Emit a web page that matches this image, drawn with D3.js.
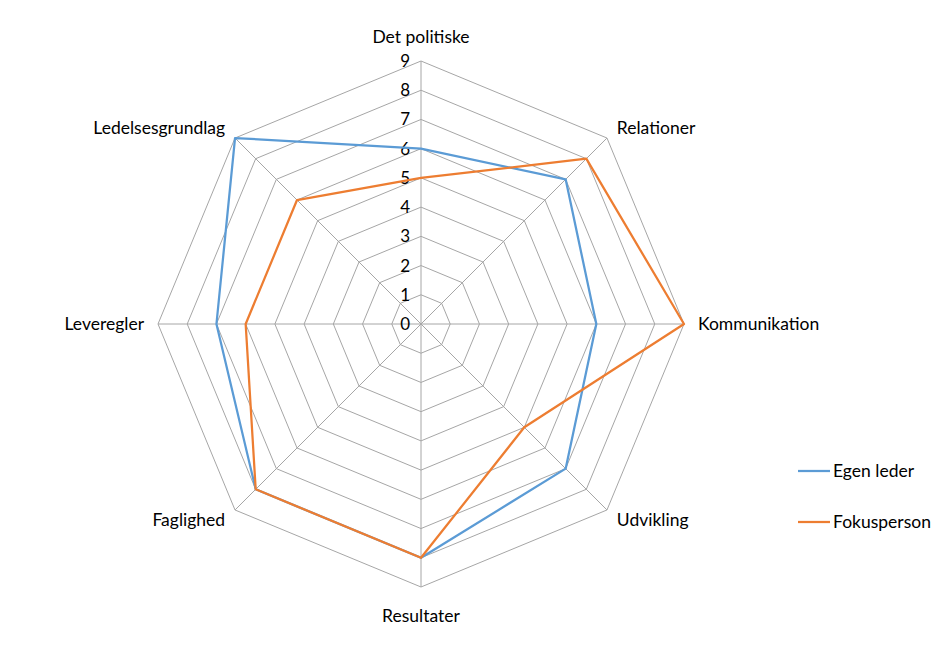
<!DOCTYPE html>
<html>
<head>
<meta charset="utf-8">
<script src="https://cdn.jsdelivr.net/npm/d3@7"></script>
<style>
  body { margin: 0; background: #fff; }
  text { font-family: Lato, "Open Sans", sans-serif; fill: #000; }
</style>
</head>
<body>
<svg id="radar" width="944" height="658"></svg>
<script>
const categories = ["Det politiske", "Relationer", "Kommunikation", "Udvikling",
  "Resultater", "Faglighed", "Leveregler", "Ledelsesgrundlag"];
const egenLeder = [6, 7, 6, 7, 8, 8, 7, 9];
const fokusperson = [5, 8, 9, 5, 8, 8, 6, 6];
const ticks = [0, 1, 2, 3, 4, 5, 6, 7, 8, 9];
const seriesNames = ["Egen leder", "Fokusperson"];
const seriesColors = ["#5B9BD5", "#ED7D31"];

const svg = d3.select("#radar");
const cx = 421, cy = 324, radius = 263;

const r = d3.scaleLinear().domain([0, 9]).range([0, radius]);
const angle = d3.scalePoint().domain(categories.concat(["_end"])).range([0, 2 * Math.PI]);

const g = svg.append("g").attr("transform", `translate(${cx},${cy})`);

// grid rings
const ring = v => categories.map(c => [angle(c), r(v)]);
const radial = d3.lineRadial().angle(d => d[0]).radius(d => d[1]).curve(d3.curveLinearClosed);

g.selectAll(".ring")
  .data(ticks.slice(1))
  .enter().append("path")
  .attr("d", v => radial(ring(v)))
  .attr("fill", "none")
  .attr("stroke", "#A6A6A6")
  .attr("stroke-width", 1);

// spokes
g.selectAll(".spoke")
  .data(categories)
  .enter().append("line")
  .attr("x1", 0).attr("y1", 0)
  .attr("x2", c => r(9) * Math.sin(angle(c)))
  .attr("y2", c => -r(9) * Math.cos(angle(c)))
  .attr("stroke", "#A6A6A6")
  .attr("stroke-width", 1);

// tick labels
g.selectAll(".tick")
  .data(ticks)
  .enter().append("text")
  .attr("x", -11)
  .attr("y", v => -r(v))
  .attr("dy", "0.35em")
  .attr("text-anchor", "end")
  .style("font-size", "17px")
  .text(v => v);

// category labels
g.selectAll(".cat")
  .data(categories)
  .enter().append("text")
  .attr("x", c => (r(9) + 14) * Math.sin(angle(c)))
  .attr("y", c => {
    const co = Math.cos(angle(c));
    if (Math.abs(co) > 0.99) return co > 0 ? -(r(9) + 24) : r(9) + 29;
    return -(r(9) + 14) * co;
  })
  .attr("dy", "0.35em")
  .attr("text-anchor", c => {
    const s = Math.sin(angle(c));
    return Math.abs(s) < 0.01 ? "middle" : (s > 0 ? "start" : "end");
  })
  .style("font-size", "17.5px")
  .text(c => c);

// series lines
const seriesData = [egenLeder, fokusperson];
g.selectAll(".series")
  .data(seriesData)
  .enter().append("path")
  .attr("d", vals => radial(categories.map((c, i) => [angle(c), r(vals[i])])))
  .attr("fill", "none")
  .attr("stroke", (d, i) => seriesColors[i])
  .attr("stroke-width", 2.25)
  .attr("stroke-linejoin", "round");

// legend
const legend = svg.append("g").attr("transform", "translate(798,471)");
const item = legend.selectAll(".item")
  .data(seriesNames)
  .enter().append("g")
  .attr("transform", (d, i) => `translate(0,${i * 51})`);
item.append("line")
  .attr("x1", 0).attr("x2", 32)
  .attr("y1", 0).attr("y2", 0)
  .attr("stroke", (d, i) => seriesColors[i])
  .attr("stroke-width", 2.25);
item.append("text")
  .attr("x", 35)
  .attr("y", 0)
  .attr("dy", "0.35em")
  .style("font-size", "17.5px")
  .text(d => d);
</script>
</body>
</html>
